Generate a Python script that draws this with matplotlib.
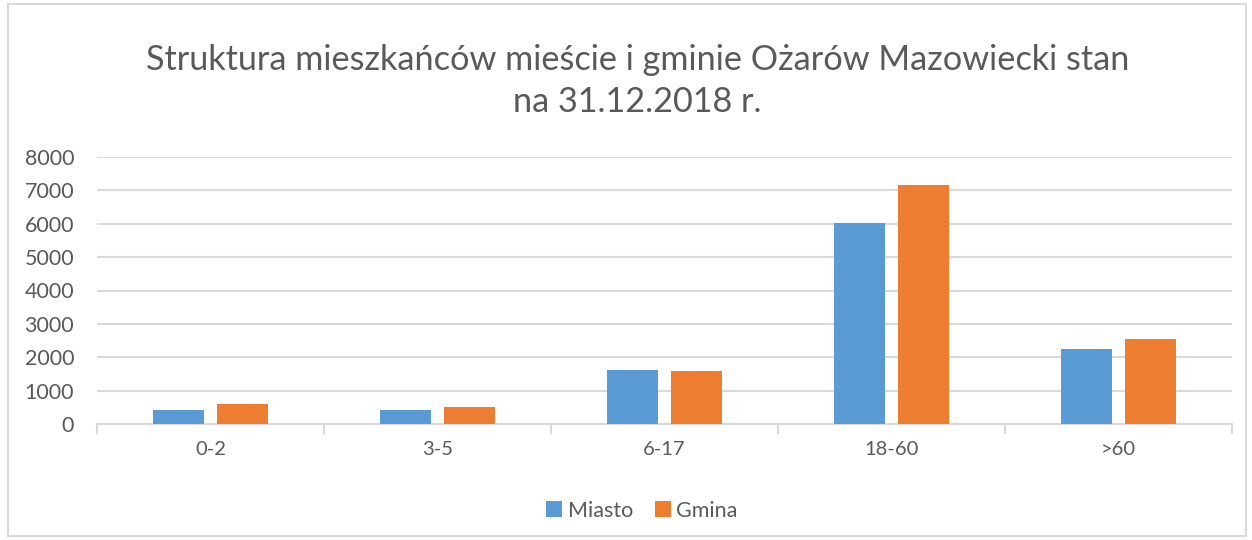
import numpy as np
import matplotlib
matplotlib.use("Agg")
import matplotlib.pyplot as plt
from matplotlib.patches import Rectangle

categories = ["0-2", "3-5", "6-17", "18-60", ">60"]
miasto = [420, 430, 1630, 6020, 2250]
gmina = [585, 520, 1600, 7165, 2555]
yticks = [0, 1000, 2000, 3000, 4000, 5000, 6000, 7000, 8000]

plt.rcParams['font.family'] = ['Lato', 'DejaVu Sans']
text_color = "#595959"
grid_color = "#d9d9d9"

fig = plt.figure(figsize=(12.52, 5.40), dpi=100)
ax = fig.add_axes([97 / 1252, 1 - 424 / 540, 1135 / 1252, 267 / 540])

x = np.arange(len(categories))
width = 0.225
off = 0.143
ax.bar(x - off, miasto, width, color="#5b9bd5", label="Miasto", zorder=3)
ax.bar(x + off, gmina, width, color="#ed7d31", label="Gmina", zorder=3)

ax.set_xlim(-0.5, len(categories) - 0.5)
ax.set_ylim(0, 8000)
ax.set_yticks(yticks)
ax.set_yticklabels([str(v) for v in yticks])
ax.set_xticks(x)
ax.set_xticklabels(categories)
ax.tick_params(axis="y", length=0, pad=16.5, labelsize=15.5, labelcolor=text_color)
ax.tick_params(axis="x", length=0, pad=12, labelsize=14.5, labelcolor=text_color)
# category boundary ticks
ax.set_xticks(np.arange(-0.5, len(categories) + 0.5, 1), minor=True)
ax.tick_params(axis="x", which="minor", length=7, color=grid_color, width=1.5)

ax.grid(axis="y", color=grid_color, linewidth=1.5, zorder=0)
for s in ["top", "right", "left"]:
    ax.spines[s].set_visible(False)
ax.spines["bottom"].set_color(grid_color)
ax.spines["bottom"].set_linewidth(1.5)

fig.text(0.509, 0.85, "Struktura mieszkańców mieście i gminie Ożarów Mazowiecki stan\nna 31.12.2018 r.",
         ha="center", va="center", fontsize=24.7, color=text_color, linespacing=1.42)

ax.legend(loc="upper center", bbox_to_anchor=(0.48, -0.215), ncol=2, frameon=False,
          fontsize=15.5, handlelength=0.75, handleheight=0.75, handletextpad=0.25,
          columnspacing=1.0, labelcolor=text_color)

fig.patches.append(Rectangle((8 / 1252, 4 / 540), 1238 / 1252, 532 / 540, transform=fig.transFigure,
                             fill=False, edgecolor=grid_color, linewidth=1.5))

fig.savefig("out.png", dpi=100)
